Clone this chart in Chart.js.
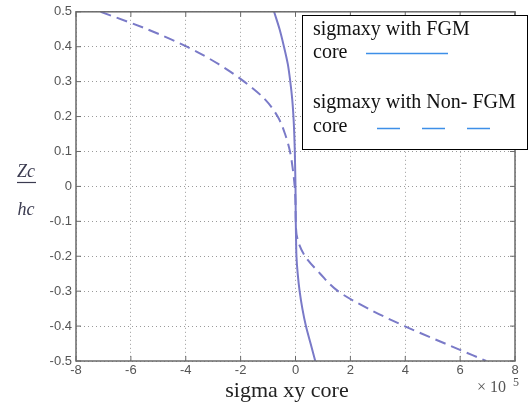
<!DOCTYPE html>
<html><head><meta charset="utf-8">
<script src="https://cdn.jsdelivr.net/npm/chart.js@4"></script>
<style>html,body{margin:0;padding:0;background:#fff}#wrap{width:529px;height:405px;position:relative}</style>
</head><body><div id="wrap"><canvas id="c" width="529" height="405"></canvas></div>
<script>
// Data
const zValues = [0.5, 0.45, 0.4, 0.35, 0.3, 0.25, 0.2, 0.15, 0.1, 0.05, 0, -0.05, -0.1, -0.15, -0.2, -0.25, -0.3, -0.35, -0.4, -0.45, -0.5];
const sigmaFGM = [-0.78, -0.58, -0.42, -0.28, -0.19, -0.12, -0.075, -0.045, -0.025, -0.012, 0, 0.005, 0.01, 0.02, 0.035, 0.08, 0.15, 0.25, 0.38, 0.55, 0.72];
const sigmaNonFGM = [-7.1, -5.4, -3.96, -2.8, -1.87, -1.12, -0.65, -0.38, -0.2, -0.1, -0.03, 0, 0.01, 0.07, 0.35, 0.9, 1.55, 2.65, 3.97, 5.45, 6.95];
const xTickLabels = ['-8', '-6', '-4', '-2', '0', '2', '4', '6', '8'];
const yTickLabels = ['-0.5', '-0.4', '-0.3', '-0.2', '-0.1', '0', '0.1', '0.2', '0.3', '0.4', '0.5'];
const legendLabels = [['sigmaxy with FGM', 'core'], ['sigmaxy with Non- FGM', 'core']];
const xAxisTitle = 'sigma xy core';
const yAxisTitleTop = 'Zc';
const yAxisTitleBottom = 'hc';

const lineColor = '#7a7ac8';
const legendLineColor = '#3d8fe8';

const decor = {
  id: 'decor',
  afterDraw(chart) {
    const ctx = chart.ctx, a = chart.chartArea;
    const xs = chart.scales.x, ys = chart.scales.y;
    ctx.save();
    // frame
    ctx.strokeStyle = '#6a6a6a'; ctx.lineWidth = 1.5;
    ctx.strokeRect(a.left, a.top, a.right - a.left, a.bottom - a.top);
    // inward ticks
    ctx.lineWidth = 1;
    xs.ticks.forEach(t => {
      const px = xs.getPixelForValue(t.value);
      ctx.beginPath(); ctx.moveTo(px, a.bottom); ctx.lineTo(px, a.bottom - 5);
      ctx.moveTo(px, a.top); ctx.lineTo(px, a.top + 5); ctx.stroke();
    });
    ys.ticks.forEach(t => {
      const py = ys.getPixelForValue(t.value);
      ctx.beginPath(); ctx.moveTo(a.left, py); ctx.lineTo(a.left + 5, py);
      ctx.moveTo(a.right, py); ctx.lineTo(a.right - 5, py); ctx.stroke();
    });
    // x title
    ctx.fillStyle = '#222';
    ctx.font = '22px "Liberation Serif"';
    ctx.textAlign = 'center'; ctx.textBaseline = 'alphabetic';
    ctx.fillText(xAxisTitle, 287, 397);
    // exponent
    ctx.fillStyle = '#555';
    ctx.font = '16px "Liberation Serif"';
    ctx.textAlign = 'left';
    ctx.fillText('\u00d7 10', 477, 392);
    ctx.font = '12px "Liberation Serif"';
    ctx.fillText('5', 513, 386);
    // y title fraction
    ctx.fillStyle = '#3b3b50';
    ctx.font = 'italic 18px "Liberation Serif"';
    ctx.textAlign = 'center';
    ctx.fillText(yAxisTitleTop, 26, 177);
    ctx.fillText(yAxisTitleBottom, 26, 215);
    ctx.strokeStyle = '#3b3b50'; ctx.lineWidth = 1.2;
    ctx.beginPath(); ctx.moveTo(17, 182.5); ctx.lineTo(36, 182.5); ctx.stroke();
    // legend box
    const bx = 302, by = 15, bw = 226, bh = 135;
    ctx.fillStyle = '#fff';
    ctx.fillRect(bx, by, bw, bh);
    ctx.strokeStyle = '#000'; ctx.lineWidth = 1;
    ctx.strokeRect(bx + 0.5, by + 0.5, bw - 1, bh - 1);
    ctx.fillStyle = '#111';
    ctx.font = '20px "Liberation Serif"';
    ctx.textAlign = 'left';
    ctx.fillText(legendLabels[0][0], 313, 35);
    ctx.fillText(legendLabels[0][1], 313, 58);
    ctx.fillText(legendLabels[1][0], 313, 108);
    ctx.fillText(legendLabels[1][1], 313, 132);
    ctx.strokeStyle = legendLineColor; ctx.lineWidth = 1.5;
    ctx.beginPath(); ctx.moveTo(366, 53.5); ctx.lineTo(448, 53.5); ctx.stroke();
    ctx.setLineDash([23, 22]);
    ctx.beginPath(); ctx.moveTo(377, 128.5); ctx.lineTo(492, 128.5); ctx.stroke();
    ctx.restore();
  }
};

new Chart(document.getElementById('c'), {
  type: 'scatter',
  data: {
    datasets: [
      {
        label: legendLabels[0].join(' '),
        data: zValues.map((z, i) => ({x: sigmaFGM[i], y: z})),
        indexAxis: 'y', cubicInterpolationMode: 'monotone',
        showLine: true, borderColor: lineColor, borderWidth: 2, pointRadius: 0, fill: false
      },
      {
        label: legendLabels[1].join(' '),
        data: zValues.map((z, i) => ({x: sigmaNonFGM[i], y: z})),
        indexAxis: 'y', cubicInterpolationMode: 'monotone',
        showLine: true, borderColor: lineColor, borderWidth: 2, borderDash: [11, 6], pointRadius: 0, fill: false
      }
    ]
  },
  options: {
    responsive: false, animation: false, devicePixelRatio: 1,
    layout: {padding: {top: 11, right: 14, left: 0, bottom: 0}},
    plugins: {legend: {display: false}, tooltip: {enabled: false}},
    scales: {
      x: {
        type: 'linear', min: -8, max: 8,
        ticks: {stepSize: 2, color: '#555', font: {family: '"Liberation Sans"', size: 13}, padding: 2,
          callback: (v, i) => xTickLabels[i]},
        grid: {color: '#9a9a9a', lineWidth: 1, drawTicks: false},
        border: {display: false, dash: [1, 3]},
        afterFit: s => { s.height = 44; }
      },
      y: {
        type: 'linear', min: -0.5, max: 0.5,
        ticks: {stepSize: 0.1, color: '#555', font: {family: '"Liberation Sans"', size: 13}, padding: 4,
          callback: (v, i) => yTickLabels[i]},
        grid: {color: '#9a9a9a', lineWidth: 1, drawTicks: false},
        border: {display: false, dash: [1, 3]},
        afterFit: s => { s.width = 76; }
      }
    }
  },
  plugins: [decor]
});
</script></body></html>
